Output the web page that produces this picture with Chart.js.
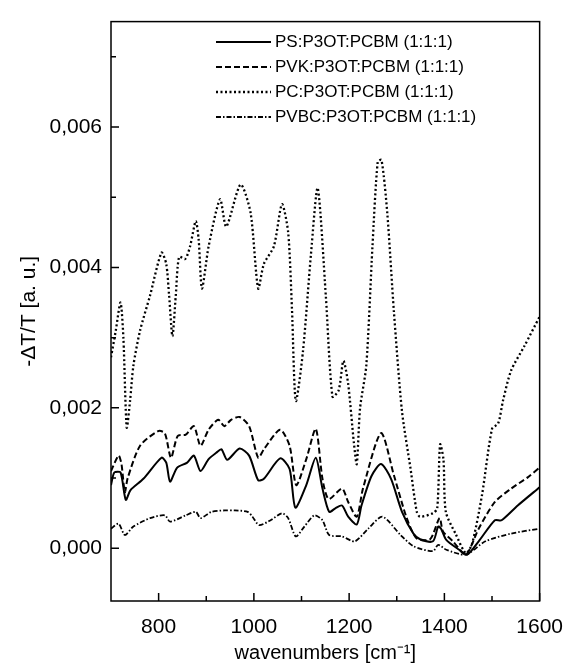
<!DOCTYPE html>
<html>
<head>
<meta charset="utf-8">
<script src="https://cdn.jsdelivr.net/npm/chart.js@4"></script>
<style>
  body { margin: 0; background: #fff; }
  #wrap { width: 577px; height: 668px; }
</style>
</head>
<body>
<div id="wrap"><canvas id="spectra"></canvas></div>
<script>
// series labels
const seriesNames = ['PS:P3OT:PCBM (1:1:1)', 'PVK:P3OT:PCBM (1:1:1)', 'PC:P3OT:PCBM (1:1:1)', 'PVBC:P3OT:PCBM (1:1:1)']

// wavenumbers [cm-1] and -dT/T values
const psX = [700, 707, 720, 731, 741, 768, 806, 816, 824, 839, 860, 874, 888, 905, 921, 932, 944, 970, 990, 1009, 1021, 1055, 1075, 1087, 1110, 1130, 1144, 1158, 1171, 1185, 1198, 1216, 1226, 1247, 1267, 1288, 1311, 1335, 1349, 1376, 1387, 1393, 1404, 1431, 1448, 1472, 1506, 1520, 1554, 1600]
const psY = [0.0009, 0.00108, 0.00108, 0.00069, 0.00083, 0.00099, 0.00129, 0.00122, 0.00095, 0.00115, 0.00122, 0.00132, 0.0011, 0.00127, 0.00136, 0.00141, 0.00126, 0.00142, 0.00132, 0.00097, 0.00099, 0.00128, 0.00113, 0.00058, 0.0009, 0.00129, 0.00085, 0.00052, 0.00057, 0.00061, 0.00045, 0.00034, 0.00061, 0.00103, 0.0012, 0.00099, 0.00052, 0.00021, 0.00013, 0.0001, 0.00031, 0.00028, 0.00012, -0.00002, -0.00009, 0.0001, 0.0004, 0.0004, 0.00061, 0.00087]

const pvkX = [700, 716, 722, 729, 735, 761, 799, 813, 826, 840, 857, 874, 888, 905, 925, 938, 952, 970, 990, 1009, 1021, 1055, 1075, 1089, 1110, 1130, 1144, 1157, 1185, 1198, 1216, 1229, 1267, 1294, 1321, 1342, 1370, 1390, 1397, 1418, 1445, 1472, 1506, 1540, 1575, 1600]
const pvkY = [0.0011, 0.00132, 0.0012, 0.0008, 0.001, 0.00146, 0.00167, 0.00164, 0.00129, 0.0016, 0.00162, 0.00174, 0.00146, 0.00169, 0.00183, 0.00174, 0.00183, 0.00187, 0.00174, 0.00129, 0.00141, 0.00169, 0.00146, 0.0009, 0.00127, 0.0017, 0.00099, 0.0007, 0.00085, 0.00066, 0.00045, 0.00085, 0.00164, 0.00104, 0.00043, 0.00014, 0.00013, 0.00043, 0.00024, 0.0001, -0.00009, 0.00028, 0.00066, 0.00085, 0.00101, 0.00115]

const pcX = [700, 710, 720, 726, 733, 740, 747, 761, 782, 806, 816, 822, 829, 836, 843, 856, 866, 878, 884, 891, 905, 929, 942, 972, 993, 1009, 1021, 1042, 1059, 1072, 1080, 1088, 1103, 1120, 1134, 1151, 1165, 1178, 1188, 1198, 1210, 1216, 1223, 1236, 1249, 1260, 1268, 1280, 1294, 1311, 1329, 1342, 1349, 1376, 1385, 1391, 1398, 1403, 1424, 1445, 1458, 1479, 1500, 1513, 1523, 1540, 1568, 1600]
const pcY = [0.00272, 0.0031, 0.0035, 0.003, 0.00172, 0.0021, 0.0026, 0.0031, 0.0036, 0.00421, 0.00405, 0.0036, 0.00302, 0.0036, 0.00415, 0.00412, 0.0043, 0.00466, 0.0044, 0.0037, 0.0043, 0.00497, 0.00458, 0.00518, 0.00478, 0.0037, 0.00405, 0.0043, 0.0049, 0.0045, 0.0034, 0.0021, 0.0028, 0.0042, 0.00513, 0.0036, 0.00216, 0.00225, 0.00267, 0.00234, 0.0015, 0.0012, 0.002, 0.0026, 0.0043, 0.0055, 0.00553, 0.00478, 0.00337, 0.00195, 0.00113, 0.00052, 0.00045, 0.0005, 0.00057, 0.00148, 0.00127, 0.00052, 0.0002, -0.00007, 0.00006, 0.00076, 0.0017, 0.00178, 0.0021, 0.00253, 0.00288, 0.0033]

const pvbcX = [700, 716, 729, 747, 782, 813, 824, 857, 878, 888, 911, 939, 960, 987, 997, 1011, 1035, 1059, 1072, 1088, 1106, 1127, 1144, 1158, 1185, 1212, 1240, 1270, 1308, 1335, 1376, 1387, 1404, 1445, 1486, 1540, 1600]
const pvbcY = [0.00028, 0.00035, 0.00019, 0.00031, 0.00043, 0.00047, 0.00038, 0.00047, 0.00052, 0.00043, 0.00052, 0.00054, 0.00054, 0.00052, 0.00045, 0.00033, 0.0004, 0.0005, 0.00043, 0.00017, 0.00031, 0.00047, 0.0004, 0.00019, 0.00017, 0.0001, 0.00028, 0.00045, 0.00019, 0.00003, -0.00004, 0.00005, -0.00002, -0.00009, 0.0001, 0.00021, 0.00028]

// axis ticks
const xMajor = [800, 1000, 1200, 1400, 1600]
const xMinor = [900, 1100, 1300, 1500]
const yMajor = [0, 0.002, 0.004, 0.006]
const yMinor = [0.001, 0.003, 0.005, 0.007]

function pts(xs, ys) {
  return xs.map((x, i) => ({x: x, y: ys[i]}))
}

const FONT = "'Liberation Sans', Arial, sans-serif"

// box around the plot + inward tick marks + legend inside the plot
const framePlugin = {
  id: 'frame',
  afterDraw(chart) {
    const ctx = chart.ctx
    const a = chart.chartArea
    const xs = chart.scales.x, ys = chart.scales.y
    ctx.save()
    ctx.strokeStyle = '#000'
    ctx.lineWidth = 1.5
    ctx.setLineDash([])
    ctx.strokeRect(a.left, a.top, a.right - a.left, a.bottom - a.top)
    ctx.beginPath()
    xMajor.forEach(v => { let p = xs.getPixelForValue(v); ctx.moveTo(p, a.bottom); ctx.lineTo(p, a.bottom - 8) })
    xMinor.forEach(v => { let p = xs.getPixelForValue(v); ctx.moveTo(p, a.bottom); ctx.lineTo(p, a.bottom - 5) })
    yMajor.forEach(v => { let p = ys.getPixelForValue(v); ctx.moveTo(a.left, p); ctx.lineTo(a.left + 8, p) })
    yMinor.forEach(v => { let p = ys.getPixelForValue(v); ctx.moveTo(a.left, p); ctx.lineTo(a.left + 5, p) })
    ctx.stroke()

    // legend
    ctx.font = '17px ' + FONT
    ctx.textBaseline = 'middle'
    ctx.fillStyle = '#000'
    chart.data.datasets.forEach((ds, i) => {
      const y = 42 + i * 25
      ctx.beginPath()
      ctx.lineWidth = ds.borderWidth
      ctx.setLineDash(ds.borderDash || [])
      ctx.moveTo(216, y)
      ctx.lineTo(271, y)
      ctx.stroke()
      ctx.fillText(ds.label, 275, y)
    })
    ctx.restore()
  }
}

let spectra = new Chart(document.getElementById('spectra'), {
  type: 'line',
  data: {
    datasets: [
      {label: seriesNames[0], data: pts(psX, psY), borderDash: [], borderWidth: 2},
      {label: seriesNames[1], data: pts(pvkX, pvkY), borderDash: [6, 3], borderWidth: 2},
      {label: seriesNames[2], data: pts(pcX, pcY), borderDash: [2, 2.5], borderWidth: 2.3},
      {label: seriesNames[3], data: pts(pvbcX, pvbcY), borderDash: [5, 2, 1.5, 2], borderWidth: 1.8}
    ]
  },
  options: {
    responsive: true,
    maintainAspectRatio: false,
    animation: false,
    layout: {padding: {top: 13, right: 27, left: 0, bottom: 0}},
    elements: {
      line: {borderColor: '#000', tension: 0.25, fill: false},
      point: {radius: 0}
    },
    plugins: {
      legend: {display: false},
      tooltip: {enabled: false}
    },
    scales: {
      x: {
        type: 'linear',
        min: 700,
        max: 1600,
        grid: {display: false, drawTicks: false},
        border: {display: false},
        afterBuildTicks: s => { s.ticks = xMajor.map(v => ({value: v})) },
        afterFit: s => { s.height = 67 },
        ticks: {
          color: '#000',
          font: {family: FONT, size: 21},
          padding: 14,
          maxRotation: 0,
          callback: v => String(v)
        },
        title: {
          display: true,
          text: 'wavenumbers [cm\u207B\u00B9]',
          color: '#000',
          font: {family: FONT, size: 20},
          padding: {top: 0, bottom: 3}
        }
      },
      y: {
        min: -0.00075,
        max: 0.0075,
        grid: {display: false, drawTicks: false},
        border: {display: false},
        afterBuildTicks: s => { s.ticks = yMajor.map(v => ({value: v})) },
        afterFit: s => { s.width = 111 },
        ticks: {
          color: '#000',
          font: {family: FONT, size: 21},
          padding: 9,
          callback: v => v.toFixed(3).replace('.', ',')
        },
        title: {
          display: true,
          text: '-\u0394T/T [a. u.]',
          color: '#000',
          font: {family: FONT, size: 21},
          padding: {top: 17, bottom: 0}
        }
      }
    }
  },
  plugins: [framePlugin]
});
</script>
</body>
</html>
